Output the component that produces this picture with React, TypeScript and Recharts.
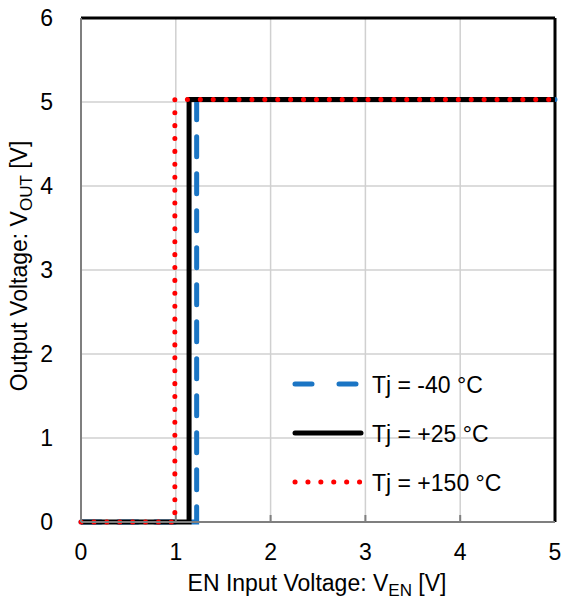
import { CartesianGrid, Label, Line, LineChart, ReferenceLine, XAxis, YAxis } from "recharts";

const xTicks = [0, 1, 2, 3, 4, 5];
const yTicks = [0, 1, 2, 3, 4, 5, 6];

// EN threshold curves (x = VEN [V], y = VOUT [V])
const minus40 = [
  { x: 0, y: 0 },
  { x: 1.22, y: 0 },
  { x: 1.22, y: 5.03 },
  { x: 5, y: 5.03 },
];
const plus25 = [
  { x: 0, y: 0 },
  { x: 1.14, y: 0 },
  { x: 1.14, y: 5.03 },
  { x: 5, y: 5.03 },
];
const plus150 = [
  { x: 0, y: 0 },
  { x: 0.99, y: 0 },
  { x: 0.99, y: 5.03 },
  { x: 5, y: 5.03 },
];

const legendItems = [
  { name: "Tj = -40 °C", color: "#1B75C4", dash: "17 27" },
  { name: "Tj = +25 °C", color: "#000000", dash: undefined },
  { name: "Tj = +150 °C", color: "#FF0000", dash: "0.1 12.8" },
];

const font = "'Liberation Sans', Arial, sans-serif";
const fs = 23;

const XTick = (props: any) => {
  const { x, y, payload } = props;
  return (
    <g>
      {payload.value > 0 && payload.value < 5 && (
        <line x1={x} x2={x} y1={y} y2={y - 7} stroke="#7f7f7f" strokeWidth={2} />
      )}
      <text x={x} y={y + 38} textAnchor="middle" fontSize={fs} fill="#000" fontFamily={font}>
        {payload.value}
      </text>
    </g>
  );
};

const YTick = (props: any) => {
  const { x, y, payload } = props;
  return (
    <text x={x - 28} y={y + 8} textAnchor="end" fontSize={fs} fill="#000" fontFamily={font}>
      {payload.value}
    </text>
  );
};

const LegendBox = () => (
  <svg width={260} height={150} style={{ position: "absolute", left: 283, top: 360 }}>
    {legendItems.map((item, i) => {
      const cy = 24 + i * 49;
      return (
        <g key={item.name}>
          <line
            x1={12}
            x2={78}
            y1={cy}
            y2={cy}
            stroke={item.color}
            strokeWidth={5}
            strokeDasharray={item.dash}
            strokeLinecap="round"
          />
          <text x={89} y={cy + 9} fontSize={fs} fill="#000" fontFamily={font}>
            {item.name}
          </text>
        </g>
      );
    })}
  </svg>
);

export default function App() {
  return (
    <div style={{ position: "absolute", left: 0, top: 0, width: 563, height: 604, background: "#fff" }}>
      <LineChart width={563} height={604} margin={{ top: 18, right: 8, bottom: 0, left: 0 }}>
        <CartesianGrid stroke="#d0d0d0" strokeWidth={1.5} />
        <XAxis
          type="number"
          dataKey="x"
          domain={[0, 5]}
          ticks={xTicks}
          height={82}
          stroke="#7f7f7f"
          strokeWidth={2}
          tickLine={false}
          tickSize={0}
          tickMargin={0}
          tick={<XTick />}
        >
          <Label
            content={() => (
              <text x={317} y={591} textAnchor="middle" fontSize={fs} fill="#000" fontFamily={font}>
                EN Input Voltage: V
                <tspan fontSize={17} dy={5}>EN</tspan>
                <tspan dy={-5}> [V]</tspan>
              </text>
            )}
          />
        </XAxis>
        <YAxis
          type="number"
          dataKey="y"
          domain={[0, 6]}
          ticks={yTicks}
          width={81}
          stroke="#7f7f7f"
          strokeWidth={2}
          tickLine={false}
          tickSize={0}
          tickMargin={0}
          tick={<YTick />}
        >
          <Label
            content={() => (
              <text
                x={27}
                y={266}
                transform="rotate(-90 27 266)"
                textAnchor="middle"
                fontSize={fs}
                fill="#000"
                fontFamily={font}
              >
                Output Voltage: V
                <tspan fontSize={17} dy={5}>OUT</tspan>
                <tspan dy={-5}> [V]</tspan>
              </text>
            )}
          />
        </YAxis>
        <ReferenceLine y={6} stroke="#000" strokeWidth={3} />
        <ReferenceLine x={5} stroke="#000" strokeWidth={3} />
        <Line
          data={minus40}
          dataKey="y"
          stroke="#1B75C4"
          strokeWidth={5}
          strokeDasharray="20 17"
          strokeLinecap="round"
          dot={false}
          isAnimationActive={false}
        />
        <Line
          data={plus25}
          dataKey="y"
          stroke="#000"
          strokeWidth={5}
          dot={false}
          isAnimationActive={false}
        />
        <Line
          data={plus150}
          dataKey="y"
          stroke="#FF0000"
          strokeWidth={5}
          strokeDasharray="0.1 12.8"
          strokeLinecap="round"
          dot={false}
          isAnimationActive={false}
        />
      </LineChart>
      <LegendBox />
    </div>
  );
}
